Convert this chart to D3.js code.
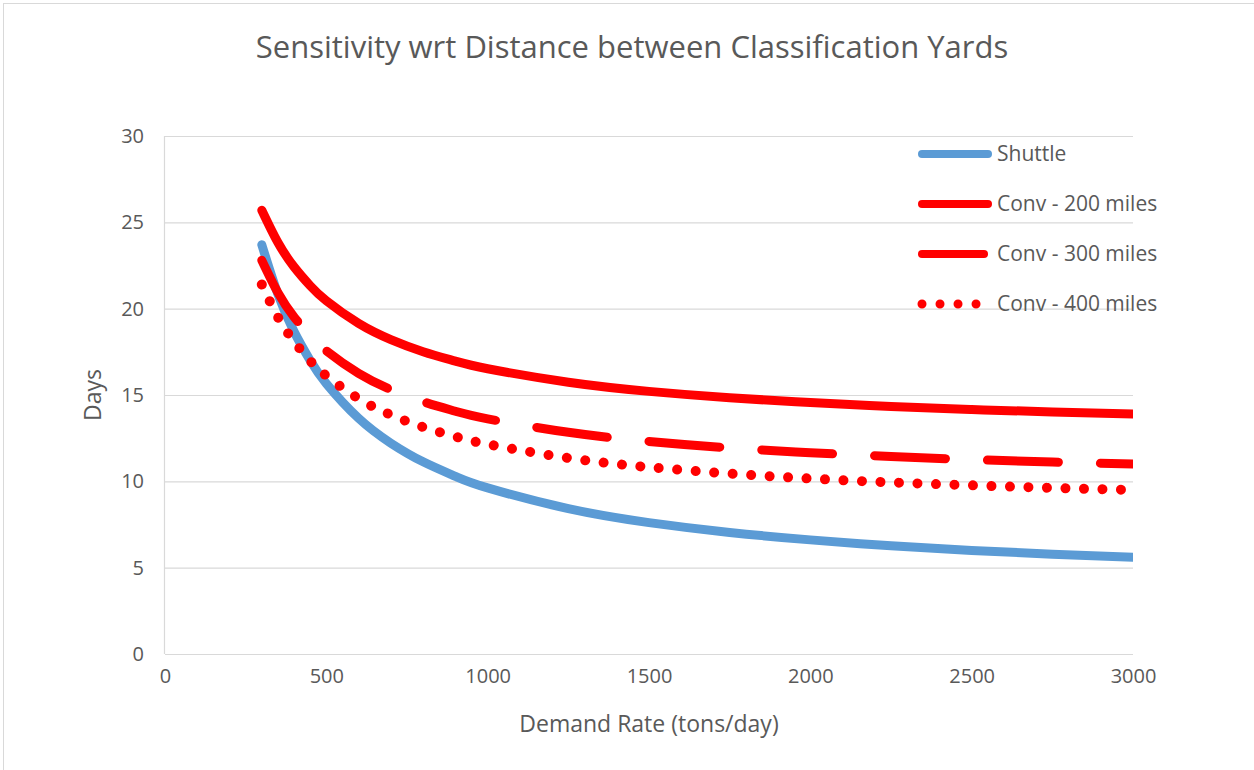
<!DOCTYPE html>
<html>
<head>
<meta charset="utf-8">
<script src="https://cdn.jsdelivr.net/npm/d3@7"></script>
<style>
  body { margin: 0; background: #fff; }
  text { font-family: "Open Sans", "Noto Sans", sans-serif; fill: #595959; }
</style>
</head>
<body>
<div id="chart"></div>
<script>
// Demand rate (tons/day)
var demand = [300, 350, 400, 450, 500, 600, 700, 800, 900, 1000, 1250, 1500, 1750, 2000, 2250, 2500, 2750, 3000];

// Days
var shuttle = [23.70, 20.83, 18.67, 17.00, 15.66, 13.65, 12.21, 11.13, 10.29, 9.62, 8.42, 7.61, 7.04, 6.61, 6.27, 6.00, 5.78, 5.60];
var conv200 = [25.70, 23.83, 22.42, 21.33, 20.46, 19.15, 18.21, 17.51, 16.96, 16.52, 15.74, 15.21, 14.84, 14.56, 14.34, 14.16, 14.02, 13.90];
var conv300 = [22.80, 20.93, 19.52, 18.43, 17.56, 16.25, 15.31, 14.61, 14.06, 13.62, 12.84, 12.31, 11.94, 11.66, 11.44, 11.26, 11.12, 11.00];
var conv400 = [21.40, 19.51, 18.10, 16.98, 16.11, 14.79, 13.85, 13.14, 12.59, 12.15, 11.35, 10.82, 10.45, 10.16, 9.94, 9.77, 9.62, 9.50];

var xTicks = [0, 500, 1000, 1500, 2000, 2500, 3000];
var yTicks = [0, 5, 10, 15, 20, 25, 30];

var series = [
  { name: "Shuttle", values: shuttle, color: "#5b9bd5", width: 9, dash: null },
  { name: "Conv - 200 miles", values: conv200, color: "#ff0000", width: 9, dash: null },
  { name: "Conv - 300 miles", values: conv300, color: "#ff0000", width: 9, dash: "71 42" },
  { name: "Conv - 400 miles", values: conv400, color: "#ff0000", width: 10, dash: "0.01 18.5" }
];

var W = 1254, H = 770;
var margin = { top: 136, right: 121, bottom: 116, left: 165 },
    width = W - margin.left - margin.right,
    height = H - margin.top - margin.bottom;

var root = d3.select("#chart").append("svg")
    .attr("width", W)
    .attr("height", H);

// chart frame
root.append("rect")
    .attr("x", 3.5).attr("y", 3.5)
    .attr("width", W + 10).attr("height", H + 10)
    .attr("fill", "none")
    .attr("stroke", "#d9d9d9");

root.append("clipPath")
    .attr("id", "plotclip")
    .append("rect")
    .attr("x", -20).attr("y", -20)
    .attr("width", width + 20).attr("height", height + 40);

var svg = root.append("g")
    .attr("transform", `translate(${margin.left},${margin.top})`);

var x = d3.scaleLinear().domain([0, 3000]).range([0, width]);
var y = d3.scaleLinear().domain([0, 30]).range([height, 0]);

// gridlines
svg.append("g")
    .selectAll("line")
    .data(yTicks)
    .enter()
    .append("line")
    .attr("x1", 0)
    .attr("x2", width)
    .attr("y1", d => y(d) + 0.5)
    .attr("y2", d => y(d) + 0.5)
    .attr("stroke", "#d9d9d9")
    .attr("stroke-width", 1.2);

// left axis line
svg.append("line")
    .attr("x1", -0.5).attr("x2", -0.5)
    .attr("y1", 0).attr("y2", height)
    .attr("stroke", "#d9d9d9")
    .attr("stroke-width", 1.2);

// x axis
var xAxis = svg.append("g")
    .attr("transform", `translate(0,${height})`)
    .call(d3.axisBottom(x).tickValues(xTicks).tickSize(0).tickPadding(22).tickFormat(d3.format("d")));
xAxis.select(".domain").remove();
xAxis.selectAll("text").style("font-size", "20px").attr("dy", "0.35em");

// y axis
var yAxis = svg.append("g")
    .call(d3.axisLeft(y).tickValues(yTicks).tickSize(0).tickPadding(21));
yAxis.select(".domain").remove();
yAxis.selectAll("text").style("font-size", "20px");

// lines
var line = d3.line()
    .x((d, i) => x(demand[i]))
    .y(d => y(d))
    .curve(d3.curveNatural);

svg.append("g")
    .attr("clip-path", "url(#plotclip)")
    .selectAll(".series")
    .data(series)
    .enter()
    .append("path")
    .attr("class", "series")
    .attr("d", d => line(d.values))
    .attr("fill", "none")
    .attr("stroke", d => d.color)
    .attr("stroke-width", d => d.width)
    .attr("stroke-linecap", "round")
    .attr("stroke-linejoin", "round")
    .attr("stroke-dasharray", d => d.dash);

// legend
var legend = root.append("g")
    .selectAll("g")
    .data(series)
    .enter()
    .append("g")
    .attr("transform", (d, i) => `translate(922,${154 + i * 50})`);

legend.append("line")
    .attr("x1", 0)
    .attr("x2", (d, i) => i === 2 ? 62 : (i === 3 ? 56 : 66))
    .attr("y1", 0).attr("y2", 0)
    .attr("stroke", d => d.color)
    .attr("stroke-width", d => d.width - 1)
    .attr("stroke-linecap", "round")
    .attr("stroke-dasharray", (d, i) => i === 3 ? "0.01 18" : null);

legend.append("text")
    .attr("x", 75)
    .attr("y", 0)
    .attr("dy", "0.35em")
    .style("font-size", "21px")
    .text(d => d.name);

// title
root.append("text")
    .attr("x", 632)
    .attr("y", 47)
    .attr("dy", "0.35em")
    .attr("text-anchor", "middle")
    .style("font-size", "31px")
    .text("Sensitivity wrt Distance between Classification Yards");

// axis titles
root.append("text")
    .attr("x", 649)
    .attr("y", 724)
    .attr("dy", "0.35em")
    .attr("text-anchor", "middle")
    .style("font-size", "23px")
    .text("Demand Rate (tons/day)");

root.append("text")
    .attr("transform", "translate(93,395) rotate(-90)")
    .attr("dy", "0.35em")
    .attr("text-anchor", "middle")
    .style("font-size", "23px")
    .text("Days");
</script>
</body>
</html>
